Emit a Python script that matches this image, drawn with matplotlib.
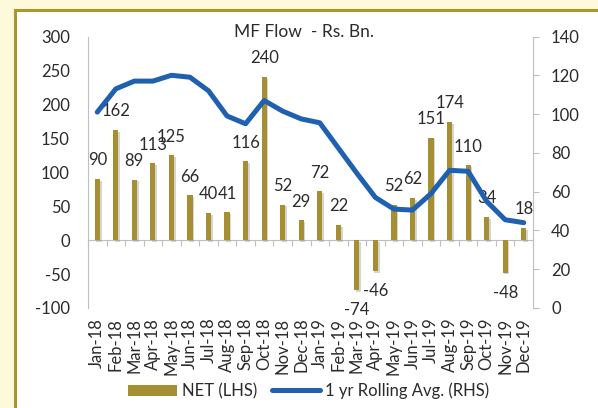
import matplotlib
matplotlib.use("Agg")
import matplotlib.pyplot as plt
import matplotlib.patheffects as pe
from matplotlib.patches import Rectangle
from matplotlib.lines import Line2D
from matplotlib.patches import Patch
import numpy as np

months = ["Jan-18", "Feb-18", "Mar-18", "Apr-18", "May-18", "Jun-18", "Jul-18", "Aug-18",
          "Sep-18", "Oct-18", "Nov-18", "Dec-18", "Jan-19", "Feb-19", "Mar-19", "Apr-19",
          "May-19", "Jun-19", "Jul-19", "Aug-19", "Sep-19", "Oct-19", "Nov-19", "Dec-19"]
net = [90, 162, 89, 113, 125, 66, 40, 41, 116, 240, 52, 29,
       72, 22, -74, -46, 52, 62, 151, 174, 110, 34, -48, 18]
rolling = [101, 113, 117, 117, 120, 119, 112, 99, 95, 107, 101.5, 97.5,
           95.5, 82.5, 69.5, 57, 51, 50.5, 59, 71, 70.5, 55, 45.5, 44]
left_ticks = [-100, -50, 0, 50, 100, 150, 200, 250, 300]
right_ticks = [0, 20, 40, 60, 80, 100, 120, 140]

BAR = "#A68F33"
LINE = "#1F60B0"
TXT = "#2b2b2b"
FS = 12
plt.rcParams['font.family'] = ['Lato', 'DejaVu Sans']
plt.rcParams['axes.unicode_minus'] = False

fig = plt.figure(figsize=(5.98, 4.08), dpi=100)
fig.patch.set_facecolor("#FFF9DC")
# white panel with gold border
fig.patches.append(Rectangle((14.5 / 598, -0.2), 1.2, 1.2 - 10 / 408,
                             transform=fig.transFigure, facecolor="white",
                             edgecolor="#A8962F", linewidth=2.2, zorder=-10))

ax = fig.add_axes([88 / 598, 1 - 308 / 408, (533 - 88) / 598, (308 - 36.5) / 408])
ax.set_zorder(1)
ax.set_facecolor("none")
x = np.arange(len(months))
bars = ax.bar(x, net, width=0.28, color=BAR, zorder=3)
for b in bars:
    b.set_path_effects([pe.SimplePatchShadow(offset=(1.2, -1.2), shadow_rgbFace="#888888", alpha=0.35), pe.Normal()])

ax.set_xlim(-0.5, len(months) - 0.5)
ax.set_ylim(-100, 300)
ax.set_yticks(left_ticks)
ax.tick_params(axis='y', length=0, pad=13, labelsize=FS, labelcolor=TXT)
ax.set_xticks(x)
ax.set_xticklabels(months, rotation=90)
ax.tick_params(axis='x', length=0, pad=7, labelsize=FS, labelcolor=TXT)
for s in ["top", "right", "bottom"]:
    ax.spines[s].set_visible(False)
ax.spines["left"].set_color("#BFBFBF")

# category axis at zero
sec = ax.secondary_xaxis(0.25)
sec.set_xticks(np.arange(-0.5, len(months), 1.0))
sec.set_xticklabels([])
sec.tick_params(axis='x', length=4, direction='out', color="#BFBFBF")
sec.spines["bottom"].set_color("#BFBFBF")

for xi, v in zip(x, net):
    off = 13.5 if v >= 0 else -14.5
    ax.annotate(str(v), (xi, v), xytext=(0, off), textcoords="offset points",
                ha="center", va="center", fontsize=FS, color=TXT, zorder=5)

ax2 = ax.twinx()
ax2.set_zorder(2)
ax2.plot(x, rolling, color=LINE, lw=3.6, solid_capstyle="round", solid_joinstyle="round", zorder=4)
ax2.set_ylim(0, 140)
ax2.set_yticks(right_ticks)
ax2.tick_params(axis='y', length=4, direction='out', color="#BFBFBF", pad=9, labelsize=FS, labelcolor=TXT)
for s in ["top", "left", "bottom"]:
    ax2.spines[s].set_visible(False)
ax2.spines["right"].set_color("#BFBFBF")

fig.text(304 / 598, 1 - 32 / 408, "MF Flow  - Rs. Bn.", ha="center", va="center", fontsize=12.5, color=TXT)

handles = [Patch(facecolor=BAR, edgecolor="none"),
           Line2D([], [], color=LINE, lw=3.6, solid_capstyle="round")]
leg = fig.legend(handles, ["NET (LHS)", "1 yr Rolling Avg. (RHS)"], loc="center",
                 bbox_to_anchor=(309 / 598, 1 - 391 / 408), ncol=2, frameon=False,
                 fontsize=FS, handlelength=2.9, handleheight=0.7, columnspacing=0.9, handletextpad=0.3)
for t in leg.get_texts():
    t.set_color(TXT)

fig.savefig("out.png", dpi=100, facecolor=fig.get_facecolor())
